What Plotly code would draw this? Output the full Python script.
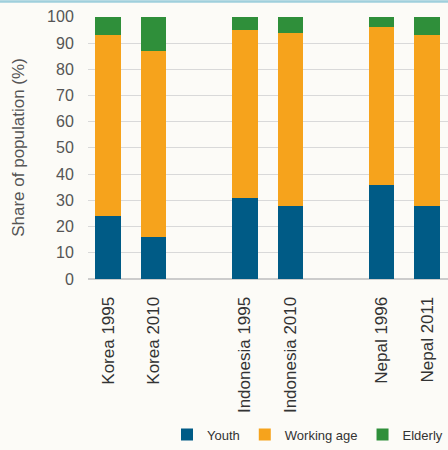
import plotly.graph_objects as go

categories = ["Korea 1995", "Korea 2010", "Indonesia 1995", "Indonesia 2010", "Nepal 1996", "Nepal 2011"]
positions = [0, 1, 3, 4, 6, 7]
youth = [24, 16, 31, 28, 36, 28]
working_age = [69, 71, 64, 66, 60, 65]
elderly = [7, 13, 5, 6, 4, 7]
y_ticks = [0, 10, 20, 30, 40, 50, 60, 70, 80, 90, 100]

colors = {"Youth": "#005b86", "Working age": "#f6a31c", "Elderly": "#2f8f3a"}

fig = go.Figure()
for name, vals in [("Youth", youth), ("Working age", working_age), ("Elderly", elderly)]:
    fig.add_trace(go.Bar(x=positions, y=vals, name=name, width=0.56,
                         marker=dict(color=colors[name], line=dict(width=0))))

W, H = 448, 450
ml, mr, mt, mb = 88, 0, 16, 167
pw = W - ml - mr
ph = H - mt - mb

fig.update_layout(
    width=W, height=H,
    barmode="stack",
    paper_bgcolor="#fcfbf7", plot_bgcolor="#fcfbf7",
    margin=dict(l=ml, r=mr, t=mt, b=mb),
    font=dict(family="Liberation Sans, Arial, sans-serif", color="#555555"),
    xaxis=dict(range=[-0.44, 7.46], tickvals=positions, ticktext=categories,
               tickangle=-90, tickfont=dict(size=17, color="#333333"),
               showgrid=False, showline=False, zeroline=False,
               ticks="outside", ticklen=10, tickcolor="rgba(0,0,0,0)"),
    yaxis=dict(range=[0, 100.3], tickvals=y_ticks, tickfont=dict(size=16, color="#555555"),
               gridcolor="#d9d9d9", gridwidth=1, zeroline=True, zerolinecolor="#cccccc",
               ticks="outside", ticklen=10, tickcolor="rgba(0,0,0,0)",
               title=dict(text="Share of population (%)", font=dict(size=17, color="#555555"), standoff=18)),
    legend=dict(orientation="h", x=1.0, xanchor="right", y=(mt + ph - 441) / ph, yanchor="middle",
                font=dict(family="Liberation Sans Narrow, Arial Narrow, sans-serif", size=13, color="#333333"),
                traceorder="normal", bgcolor="rgba(0,0,0,0)"),
    shapes=[dict(type="rect", xref="paper", yref="paper",
                 x0=-0.25, x1=1.0, y0=1.05, y1=1.06,
                 fillcolor="#9fcfdc", line=dict(width=0), layer="below")],
)

fig.write_html("out.html", config={"displayModeBar": False},
               post_script="document.body.style.margin='0';document.body.style.overflow='hidden';")
